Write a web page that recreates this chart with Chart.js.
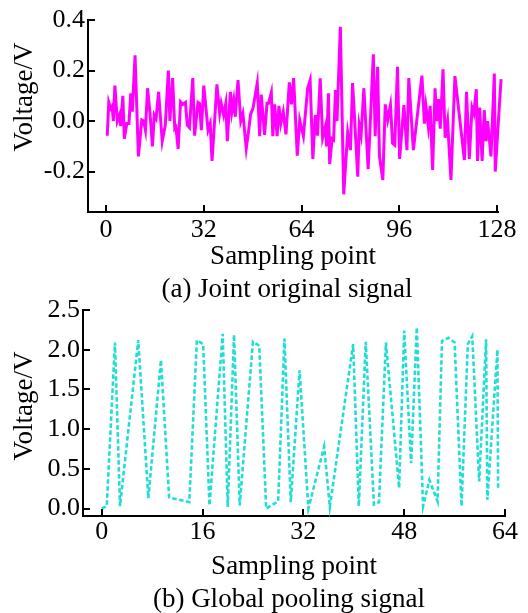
<!DOCTYPE html>
<html>
<head>
<meta charset="utf-8">
<script src="https://cdn.jsdelivr.net/npm/chart.js@4/dist/chart.umd.min.js"></script>
<style>
  html, body { margin: 0; padding: 0; background: #fff; }
  #wrap { position: relative; width: 528px; height: 613px; }
  #wrap canvas { position: absolute; left: 0; top: 0; }
</style>
</head>
<body>
<div id="wrap">
  <canvas id="topChart" width="528" height="613"></canvas>
  <canvas id="botChart" width="528" height="613"></canvas>
</div>
<script>
// ----- DATOS ----- //
// (a) senal original: vertices (punto de muestreo, voltaje)
const topX = [0.4, 0.9, 1.5, 2.0, 2.4, 2.9, 3.7, 4.4, 4.8, 5.5, 6.0, 6.8, 7.5, 8.1, 8.6, 9.5, 10.6, 11.7, 12.3, 12.9,
    13.6, 14.4, 15.2, 15.8, 16.4, 17.2, 18.4, 19.4, 20.4, 20.9, 21.8, 22.5, 22.9, 23.6, 24.4, 25.1, 26.0, 26.6, 27.3, 28.4,
    29.0, 30.1, 30.6, 31.2, 32.0, 33.4, 34.1, 34.7, 36.3, 37.2, 37.7, 38.5, 39.2, 39.7, 40.7, 41.2, 41.8, 42.3, 43.2, 44.1,
    44.8, 45.9, 46.7, 47.3, 48.1, 49.5, 50.3, 50.8, 51.9, 52.7, 53.2, 54.1, 54.6, 55.2, 56.0, 56.6, 57.2, 58.0, 58.9, 60.0,
    60.7, 61.4, 62.6, 63.4, 64.6, 66.0, 66.8, 67.7, 68.5, 69.2, 70.1, 70.9, 71.8, 72.2, 72.8, 73.2, 74.0, 74.5, 75.1, 75.6,
    76.7, 77.8, 79.1, 80.0, 80.7, 81.4, 82.4, 82.9, 83.5, 84.4, 85.8, 87.5, 88.1, 88.9, 89.5, 90.6, 91.4, 92.2, 93.1, 93.8,
    94.5, 95.4, 96.1, 97.5, 98.5, 99.1, 100.6, 103.4, 104.2, 104.7, 105.5, 106.1, 106.9, 107.7, 108.2, 108.8, 109.4, 110.3,
    111.0, 111.8, 112.9, 114.2, 117.3, 118.0, 118.9, 119.8, 120.4, 121.2, 121.6, 122.3, 123.1, 123.8, 124.4, 124.9, 126.0,
    127.1, 127.4, 129.3];
const topV = [-0.058, 0.074, 0.05, 0.06, 0.0, 0.14, 0.0, 0.024, -0.02, 0.10, -0.07, -0.01, -0.01, 0.11, 0.037, 0.26, -0.14, 0.004, 0.0, -0.036,
    0.13, 0.03, -0.10, 0.024, 0.01, 0.116, -0.08, -0.016, 0.20, 0.0, 0.17, -0.03, -0.024, -0.11, 0.076, 0.066, 0.074, -0.016, -0.026, 0.17,
    -0.058, 0.074, 0.07, -0.036, 0.14, -0.036, -0.01, -0.158, 0.145, 0.03, 0.07, 0.024, 0.07, -0.08, 0.116, 0.037, 0.083, 0.017, 0.162, 0.0,
    0.03, -0.108, -0.036, 0.026, 0.05, 0.15, -0.06, 0.105, -0.055, 0.07, 0.07, 0.113, -0.06, 0.066, -0.06, 0.06, -0.01, 0.037, -0.053, 0.153,
    0.066, 0.17, -0.137, 0.004, -0.06, 0.13, 0.162, -0.15, 0.024, -0.058, 0.169, -0.066, -0.022, -0.10, 0.11, -0.17, -0.07, -0.075, 0.123, 0.0,
    0.373, -0.29, -0.045, -0.115, 0.15, 0.0, -0.22, -0.016, -0.055, 0.13, -0.19, 0.264, -0.06, 0.215, -0.14, -0.233, 0.066, 0.004, 0.063, -0.088,
    -0.095, 0.215, -0.15, 0.063, -0.115, 0.17, -0.115, 0.18, -0.01, 0.06, -0.022, 0.06, -0.194, 0.13, 0.0, 0.087, -0.03, 0.205,
    -0.066, 0.0, -0.233, 0.178, -0.154, 0.116, -0.15, 0.053, 0.03, 0.126, -0.158, 0.053, -0.158, 0.043, -0.08, 0.0, -0.14,
    0.188, -0.2, 0.166];
const topXTicks = [0, 32, 64, 96, 128];
const topYTicks = [-0.2, 0.0, 0.2, 0.4];

// (b) senal de pooling global
const botX = [0, 0.8, 2.1, 2.9, 5.8, 7.4, 9.4, 10.7, 13.9, 15.1, 16.1, 17.1, 19.2, 20.0, 21.0, 21.9, 24.0, 25.0, 26.1, 28.0,
    29.0, 30.0, 31.4, 32.8, 35.3, 36.2, 39.9, 40.8, 41.9, 43.2, 44.0, 45.1, 47.2, 48.0, 49.1, 50.0, 51.0, 52.0, 53.3, 54.0,
    55.0, 56.0, 57.1, 58.1, 58.8, 59.9, 61.0, 61.2, 62.8, 62.9];
const botV = [0.0, 0.03, 2.09, 0.03, 2.12, 0.13, 1.87, 0.14, 0.08, 2.12, 2.07, 0.04, 2.2, 0.02, 2.19, 0.04, 2.1, 2.05, 0.0, 0.09,
    2.14, 0.08, 1.74, 0.0, 0.78, 0.02, 2.07, 0.03, 2.1, 0.05, 0.08, 2.09, 0.26, 2.24, 0.57, 2.28, 0.03, 0.36, 0.09, 2.11,
    2.15, 2.09, 0.03, 2.07, 2.17, 0.34, 2.13, 0.11, 2.0, 0.26];
const botXTicks = [0, 16, 32, 48, 64];
const botYTicks = [0.0, 0.5, 1.0, 1.5, 2.0, 2.5];

// ----- ESTILO ----- //
const FONT = "'Liberation Serif', 'Times New Roman', serif";
Chart.defaults.color = "#000";
Chart.defaults.font.family = FONT;
Chart.defaults.font.size = 26;

// marcas de eje hacia dentro
const innerTicks = {
    id: "innerTicks",
    afterDraw(chart) {
        const {ctx, chartArea, scales} = chart;
        ctx.save();
        ctx.strokeStyle = "#000";
        ctx.lineWidth = 2;
        scales.x.ticks.forEach(t => {
            const px = Math.round(scales.x.getPixelForValue(t.value));
            ctx.beginPath(); ctx.moveTo(px, chartArea.bottom); ctx.lineTo(px, chartArea.bottom - 7); ctx.stroke();
        });
        scales.y.ticks.forEach(t => {
            const py = Math.round(scales.y.getPixelForValue(t.value));
            ctx.beginPath(); ctx.moveTo(chartArea.left, py); ctx.lineTo(chartArea.left + 7, py); ctx.stroke();
        });
        ctx.restore();
    }
};

// titulo del eje y y leyenda (a)/(b) en su sitio
const figText = {
    id: "figText",
    afterDraw(chart, args, opts) {
        const ctx = chart.ctx;
        ctx.save();
        ctx.fillStyle = "#000";
        ctx.font = "27px " + FONT;
        ctx.textAlign = "center";
        ctx.textBaseline = "middle";
        ctx.fillText(opts.caption, opts.capX, opts.capY);
        ctx.translate(opts.yTitleX, opts.yTitleY);
        ctx.rotate(-Math.PI / 2);
        ctx.fillText("Voltage/V", 0, 0);
        ctx.restore();
    }
};

function makeChart(id, cfg) {
    const pts = cfg.xs.map((x, i) => ({x: x, y: cfg.ys[i]}));
    return new Chart(document.getElementById(id), {
        type: "line",
        data: {
            datasets: [{
                data: pts,
                borderColor: cfg.color,
                borderWidth: cfg.width,
                borderDash: cfg.dash,
                pointRadius: 0,
                tension: 0,
                fill: false,
                clip: false
            }]
        },
        options: {
            responsive: false,
            animation: false,
            events: [],
            layout: {padding: cfg.padding},
            plugins: {
                legend: {display: false},
                tooltip: {enabled: false},
                figText: cfg.text
            },
            scales: {
                x: {
                    type: "linear",
                    min: cfg.xMin, max: cfg.xMax,
                    grid: {display: false, drawTicks: false},
                    border: {display: true, color: "#000", width: 2},
                    afterBuildTicks: s => { s.ticks = cfg.xTicks.map(v => ({value: v})); },
                    afterFit: s => { s.height = cfg.xHeight; },
                    ticks: {padding: cfg.xTickPad, maxRotation: 0, callback: v => String(v)},
                    title: {display: true, text: "Sampling point", font: {size: 27}, padding: {top: 0, bottom: cfg.xTitlePad}}
                },
                y: {
                    type: "linear",
                    min: cfg.yMin, max: cfg.yMax,
                    grid: {display: false, drawTicks: false},
                    border: {display: true, color: "#000", width: 2},
                    afterBuildTicks: s => { s.ticks = cfg.yTicks.map(v => ({value: v})); },
                    afterFit: s => { s.width = cfg.yWidth; },
                    ticks: {padding: 3, callback: v => v.toFixed(1)},
                    title: {display: false}
                }
            }
        },
        plugins: [innerTicks, figText]
    });
}

makeChart("topChart", {
    xs: topX, ys: topV, color: "#ff00ff", width: 3, dash: [],
    text: {caption: "(a) Joint original signal", capX: 287, capY: 290, yTitleX: 25, yTitleY: 97},
    padding: {top: 20, left: 0, right: 30, bottom: 336},
    xMin: -5.9, xMax: 128.3, yMin: -0.36, yMax: 0.4,
    xTicks: topXTicks, yTicks: topYTicks,
    xHeight: 65, xTickPad: 3, xTitlePad: 4, yWidth: 88
});

makeChart("botChart", {
    xs: botX, ys: botV, color: "#22ddd5", width: 2.6, dash: [4.5, 2.5],
    text: {caption: "(b) Global pooling signal", capX: 289, capY: 600, yTitleX: 25, yTitleY: 406},
    padding: {top: 310, left: 0, right: 23, bottom: 26},
    xMin: -2.97, xMax: 64, yMin: -0.094, yMax: 2.5,
    xTicks: botXTicks, yTicks: botYTicks,
    xHeight: 71, xTickPad: 1, xTitlePad: 4, yWidth: 83
});
</script>
</body>
</html>
